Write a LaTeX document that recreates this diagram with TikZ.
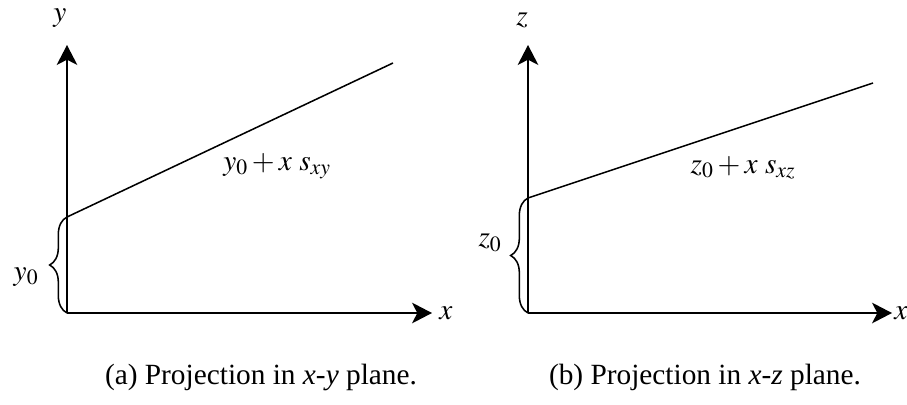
\documentclass[tikz,border=0pt]{standalone}
\usepackage{mathptmx}
\usepackage{fontspec}
\setmainfont{Liberation Serif}
\usepackage{tikz}
\usetikzlibrary{positioning, arrows.meta, decorations.pathreplacing}

\begin{document}
\begin{tikzpicture}[
  x=0.75pt, y=-0.75pt,
  font=\fontsize{22}{26}\selectfont,
  axis/.style={-{Stealth[length=15pt, width=15.5pt, inset=4pt]}, line width=1.15pt},
  trend/.style={line width=1.15pt},
  bracket/.style={decorate, decoration={brace, amplitude=13pt}, line width=1.15pt},
]
\useasboundingbox (0,0) rectangle (907,404);

% (a) x-y plane
\coordinate (oa) at (67,313);
\coordinate (ya) at (67,45);
\coordinate (xa) at (432,313);
\coordinate (sa) at (67,217);
\coordinate (ea) at (393,63);
\draw[axis] (oa) -- (ya);
\draw[axis] (oa) -- (xa);
\draw[trend] (sa) -- (ea);
\draw[bracket] (oa) -- (sa);
\node (ya-lbl) at (60,18) {$y$};
\node (xa-lbl) at (446,313) {$x$};
\node (y0-lbl) at (26,277) {$y_0$};
\node (fa-lbl) at (277,166) {$y_0 + x\ s_{xy}$};
\node (cap-a) at (261,377) {(a) Projection in \textit{x}-\textit{y} plane.};

% (b) x-z plane
\coordinate (ob) at (528,313);
\coordinate (zb) at (528,45);
\coordinate (xb) at (892,313);
\coordinate (sb) at (528,198);
\coordinate (eb) at (873,83);
\draw[axis] (ob) -- (zb);
\draw[axis] (ob) -- (xb);
\draw[trend] (sb) -- (eb);
\draw[bracket] (ob) -- (sb);
\node (zb-lbl) at (522,20) {$z$};
\node (xb-lbl) at (901,313) {$x$};
\node (z0-lbl) at (490,243) {$z_0$};
\node (fb-lbl) at (743,168) {$z_0 + x\ s_{xz}$};
\node (cap-b) at (705,377) {(b) Projection in \textit{x}-\textit{z} plane.};
\end{tikzpicture}
\end{document}
